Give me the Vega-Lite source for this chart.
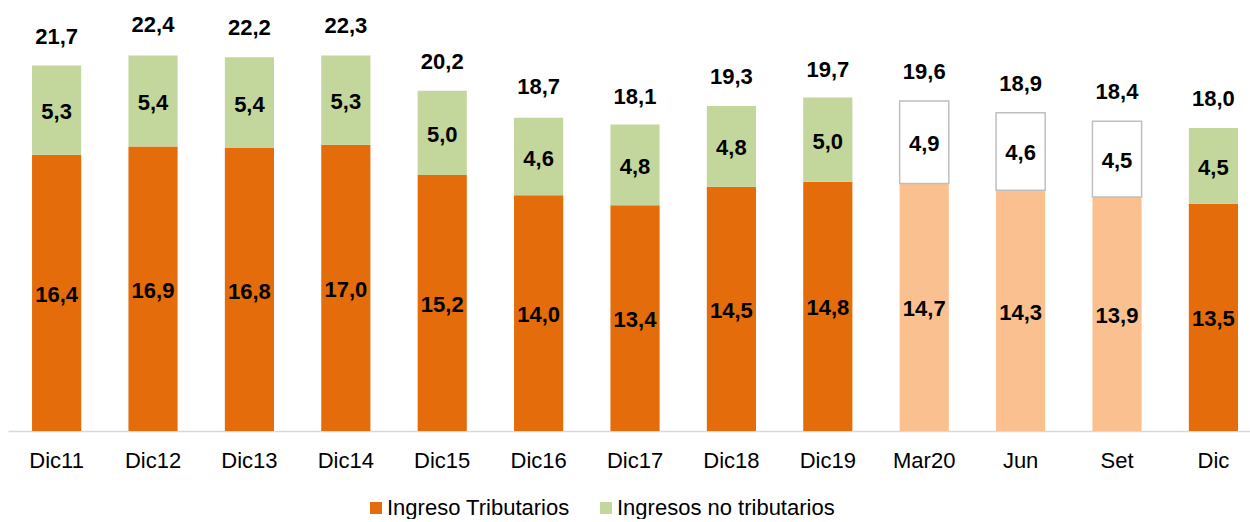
{
  "$schema": "https://vega.github.io/schema/vega-lite/v6.json",
  "width": 1242,
  "height": 421,
  "padding": {"left": 8, "top": 10, "right": 0, "bottom": 0},
  "config": {
    "view": {"stroke": null},
    "font": "Liberation Sans",
    "locale": {"number": {"decimal": ",", "thousands": ".", "grouping": [3], "currency": ["", ""]}}
  },
  "datasets": {
    "componentes": [
      {"periodo": "Dic11", "tipo": "Ingreso Tributarios", "estado": "observado", "valor": 16.4},
      {"periodo": "Dic11", "tipo": "Ingresos no tributarios", "estado": "observado", "valor": 5.3},
      {"periodo": "Dic12", "tipo": "Ingreso Tributarios", "estado": "observado", "valor": 16.9},
      {"periodo": "Dic12", "tipo": "Ingresos no tributarios", "estado": "observado", "valor": 5.4},
      {"periodo": "Dic13", "tipo": "Ingreso Tributarios", "estado": "observado", "valor": 16.8},
      {"periodo": "Dic13", "tipo": "Ingresos no tributarios", "estado": "observado", "valor": 5.4},
      {"periodo": "Dic14", "tipo": "Ingreso Tributarios", "estado": "observado", "valor": 17.0},
      {"periodo": "Dic14", "tipo": "Ingresos no tributarios", "estado": "observado", "valor": 5.3},
      {"periodo": "Dic15", "tipo": "Ingreso Tributarios", "estado": "observado", "valor": 15.2},
      {"periodo": "Dic15", "tipo": "Ingresos no tributarios", "estado": "observado", "valor": 5.0},
      {"periodo": "Dic16", "tipo": "Ingreso Tributarios", "estado": "observado", "valor": 14.0},
      {"periodo": "Dic16", "tipo": "Ingresos no tributarios", "estado": "observado", "valor": 4.6},
      {"periodo": "Dic17", "tipo": "Ingreso Tributarios", "estado": "observado", "valor": 13.4},
      {"periodo": "Dic17", "tipo": "Ingresos no tributarios", "estado": "observado", "valor": 4.8},
      {"periodo": "Dic18", "tipo": "Ingreso Tributarios", "estado": "observado", "valor": 14.5},
      {"periodo": "Dic18", "tipo": "Ingresos no tributarios", "estado": "observado", "valor": 4.8},
      {"periodo": "Dic19", "tipo": "Ingreso Tributarios", "estado": "observado", "valor": 14.8},
      {"periodo": "Dic19", "tipo": "Ingresos no tributarios", "estado": "observado", "valor": 5.0},
      {"periodo": "Mar20", "tipo": "Ingreso Tributarios", "estado": "parcial", "valor": 14.7},
      {"periodo": "Mar20", "tipo": "Ingresos no tributarios", "estado": "parcial", "valor": 4.9},
      {"periodo": "Jun", "tipo": "Ingreso Tributarios", "estado": "parcial", "valor": 14.3},
      {"periodo": "Jun", "tipo": "Ingresos no tributarios", "estado": "parcial", "valor": 4.6},
      {"periodo": "Set", "tipo": "Ingreso Tributarios", "estado": "parcial", "valor": 13.9},
      {"periodo": "Set", "tipo": "Ingresos no tributarios", "estado": "parcial", "valor": 4.5},
      {"periodo": "Dic", "tipo": "Ingreso Tributarios", "estado": "observado", "valor": 13.5},
      {"periodo": "Dic", "tipo": "Ingresos no tributarios", "estado": "observado", "valor": 4.5}
    ],
    "totales": [
      {"periodo": "Dic11", "total": 21.7},
      {"periodo": "Dic12", "total": 22.4},
      {"periodo": "Dic13", "total": 22.2},
      {"periodo": "Dic14", "total": 22.3},
      {"periodo": "Dic15", "total": 20.2},
      {"periodo": "Dic16", "total": 18.7},
      {"periodo": "Dic17", "total": 18.1},
      {"periodo": "Dic18", "total": 19.3},
      {"periodo": "Dic19", "total": 19.7},
      {"periodo": "Mar20", "total": 19.6},
      {"periodo": "Jun", "total": 18.9},
      {"periodo": "Set", "total": 18.4},
      {"periodo": "Dic", "total": 18.0}
    ]
  },
  "encoding": {
    "x": {
      "field": "periodo",
      "type": "nominal",
      "sort": null,
      "scale": {"paddingInner": 0.49, "paddingOuter": 0.187, "align": 0.667},
      "axis": {
        "title": null,
        "labelAngle": 0,
        "labelFontSize": 22,
        "labelColor": "#000000",
        "labelPadding": 19,
        "ticks": false,
        "domainColor": "#D9D9D9",
        "domainWidth": 1.5
      }
    }
  },
  "layer": [
    {
      "data": {"name": "componentes"},
      "mark": {"type": "bar", "strokeWidth": 1.5},
      "encoding": {
        "y": {"field": "valor", "type": "quantitative", "stack": "zero", "scale": {"domain": [0, 25], "nice": false}, "axis": null},
        "order": {"field": "tipo", "type": "nominal"},
        "color": {
          "field": "tipo",
          "type": "nominal",
          "scale": {"domain": ["Ingreso Tributarios", "Ingresos no tributarios"], "range": ["#E46C0A", "#C3D69B"]},
          "condition": [
            {"test": "datum.estado === 'parcial' && datum.tipo === 'Ingreso Tributarios'", "value": "#FAC090"},
            {"test": "datum.estado === 'parcial' && datum.tipo === 'Ingresos no tributarios'", "value": "#FFFFFF"}
          ],
          "legend": {
            "title": null,
            "orient": "none",
            "direction": "horizontal",
            "legendX": 357,
            "legendY": 487,
            "padding": 0,
            "symbolType": "square",
            "symbolSize": 144,
            "symbolStrokeWidth": 0,
            "labelFontSize": 22,
            "labelColor": "#000000",
            "labelLimit": 0,
            "labelOffset": 0,
            "columnPadding": 25
          }
        },
        "stroke": {
          "condition": {"test": "datum.estado === 'parcial' && datum.tipo === 'Ingresos no tributarios'", "value": "#BFBFBF"},
          "value": null
        }
      }
    },
    {
      "data": {"name": "componentes"},
      "mark": {"type": "text", "fontSize": 22, "fontWeight": "bold", "color": "#000000", "baseline": "middle", "dy": 2},
      "encoding": {
        "y": {"field": "valor", "type": "quantitative", "stack": "zero", "bandPosition": 0.5, "scale": {"domain": [0, 25], "nice": false}},
        "order": {"field": "tipo", "type": "nominal"},
        "detail": {"field": "tipo", "type": "nominal"},
        "text": {"field": "valor", "type": "quantitative", "format": ".1f"}
      }
    },
    {
      "data": {"name": "totales"},
      "mark": {"type": "text", "fontSize": 22, "fontWeight": "bold", "color": "#000000", "baseline": "alphabetic", "dy": -22},
      "encoding": {
        "y": {"field": "total", "type": "quantitative", "scale": {"domain": [0, 25], "nice": false}},
        "text": {"field": "total", "type": "quantitative", "format": ".1f"}
      }
    }
  ]
}
